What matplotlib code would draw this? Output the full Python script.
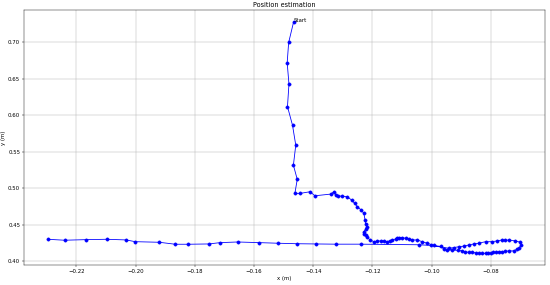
import matplotlib
matplotlib.use("Agg")
import matplotlib.pyplot as plt

x_m = [-0.1466, -0.1483, -0.1488, -0.1482, -0.1487, -0.1470, -0.1459, -0.1467, -0.1454, -0.1462,
       -0.1444, -0.1411, -0.1394, -0.1341, -0.1330, -0.1324, -0.1315, -0.1302, -0.1285, -0.1270,
       -0.1260, -0.1251, -0.1238, -0.1229, -0.1225, -0.1223, -0.1220, -0.1223, -0.1229, -0.1229,
       -0.1223, -0.1218, -0.1208, -0.1195, -0.1184, -0.1172, -0.1161, -0.1150, -0.1141, -0.1133,
       -0.1122, -0.1116, -0.1111, -0.1099, -0.1088, -0.1077, -0.1066, -0.1049, -0.1032, -0.1015,
       -0.0993, -0.0970, -0.0959, -0.0948, -0.0931, -0.0911, -0.0897, -0.0886, -0.0875, -0.0863,
       -0.0851, -0.0841, -0.0831, -0.0818, -0.0810, -0.0801, -0.0794, -0.0784, -0.0773, -0.0762,
       -0.0753, -0.0740, -0.0723, -0.0713, -0.0706, -0.0697, -0.0700, -0.0717, -0.0740, -0.0751,
       -0.0762, -0.0780, -0.0796, -0.0818, -0.0841, -0.0858, -0.0875, -0.0891, -0.0908, -0.0925,
       -0.0942, -0.1003, -0.1043, -0.1240, -0.1324, -0.1392, -0.1454, -0.1520, -0.1582, -0.1655,
       -0.1715, -0.1752, -0.1823, -0.1866, -0.1920, -0.2001, -0.2032, -0.2098, -0.2167, -0.2240,
       -0.2297]
y_m = [0.7282, 0.6996, 0.6719, 0.6427, 0.6119, 0.5864, 0.5591, 0.5318, 0.5123, 0.4932,
       0.4932, 0.4954, 0.4899, 0.4922, 0.4954, 0.4909, 0.4895, 0.4895, 0.4885, 0.4840,
       0.4795, 0.4749, 0.4704, 0.4659, 0.4568, 0.4513, 0.4476, 0.4441, 0.4408, 0.4377,
       0.4363, 0.4332, 0.4295, 0.4271, 0.4281, 0.4281, 0.4281, 0.4271, 0.4285, 0.4295,
       0.4308, 0.4318, 0.4326, 0.4326, 0.4318, 0.4308, 0.4295, 0.4295, 0.4271, 0.4250,
       0.4220, 0.4206, 0.4172, 0.4158, 0.4158, 0.4152, 0.4145, 0.4135, 0.4124, 0.4127,
       0.4117, 0.4113, 0.4110, 0.4113, 0.4117, 0.4113, 0.4124, 0.4127, 0.4131, 0.4135,
       0.4138, 0.4145, 0.4145, 0.4165, 0.4181, 0.4226, 0.4263, 0.4281, 0.4295, 0.4288,
       0.4295, 0.4281, 0.4271, 0.4271, 0.4250, 0.4240, 0.4226, 0.4210, 0.4203, 0.4190,
       0.4181, 0.4220, 0.4229, 0.4237, 0.4237, 0.4240, 0.4243, 0.4250, 0.4258, 0.4267,
       0.4258, 0.4240, 0.4236, 0.4236, 0.4263, 0.4271, 0.4295, 0.4304, 0.4299, 0.4291,
       0.4304]

title = "Position estimation"
xlabel = "x (m)"
ylabel = "y (m)"
start_label = "Start"

DPI = 39
fig = plt.figure(figsize=(550 / DPI, 285 / DPI), dpi=DPI)
ax = fig.add_subplot(111)
fig.subplots_adjust(left=0.0436, right=0.991, bottom=0.070, top=0.965)

ax.plot(x_m, y_m, "o-", color="blue", markersize=6, linewidth=1.5)
ax.text(x_m[0], y_m[0], start_label, fontsize=10)
ax.set_title(title, fontsize=12)
ax.set_xlabel(xlabel, fontsize=10)
ax.set_ylabel(ylabel, fontsize=10)
ax.grid(True)

fig.savefig("out.png", dpi=DPI)
